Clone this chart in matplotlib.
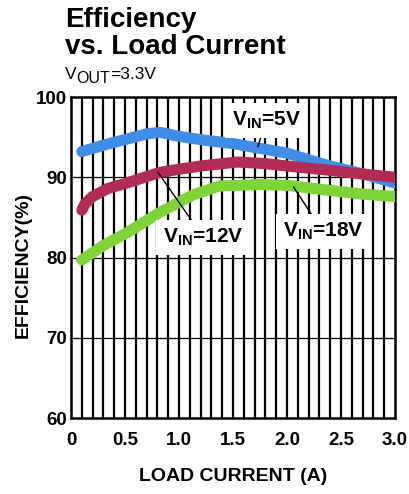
import matplotlib
matplotlib.use("Agg")
import matplotlib.pyplot as plt
import numpy as np

plt.rcParams['font.family'] = ['Liberation Sans', 'DejaVu Sans']
plt.rcParams['mathtext.fontset'] = 'custom'
plt.rcParams['mathtext.rm'] = 'Liberation Sans'
plt.rcParams['mathtext.bf'] = 'Liberation Sans:bold'

# Load current (A) and efficiency (%) per input voltage
i_5v = [0.1, 0.3, 0.5, 0.7, 0.82, 1.0, 1.25, 1.5, 1.75, 2.0, 2.37, 2.68, 3.0]
eff_5v = [93.2, 94.0, 94.7, 95.4, 95.6, 95.1, 94.6, 94.2, 93.6, 93.0, 91.5, 90.5, 89.3]

i_12v = [0.1, 0.13, 0.2, 0.34, 0.52, 0.82, 1.0, 1.2, 1.54, 1.8, 2.0, 2.37, 2.7, 3.0]
eff_12v = [85.9, 86.7, 87.6, 88.6, 89.3, 90.6, 91.0, 91.4, 91.9, 91.7, 91.4, 90.9, 90.4, 90.0]

i_18v = [0.1, 0.3, 0.52, 0.82, 1.13, 1.37, 1.75, 2.0, 2.37, 2.7, 3.0]
eff_18v = [79.7, 81.5, 83.1, 85.6, 87.8, 88.9, 89.1, 89.0, 88.4, 87.9, 87.6]

x_ticks = [0, 0.5, 1.0, 1.5, 2.0, 2.5, 3.0]
x_tick_labels = ["0", "0.5", "1.0", "1.5", "2.0", "2.5", "3.0"]
y_ticks = [60, 70, 80, 90, 100]

fig = plt.figure(figsize=(4.09, 4.94), dpi=100)
ax = fig.add_axes([0.1736, 0.1538, 0.7922, 0.6498])
ax.set_xlim(0, 3.0)
ax.set_ylim(60, 100)

# dense vertical grid every 0.1 A, horizontal every 10 %
for xv in np.arange(0.1, 3.0, 0.1):
    ax.axvline(xv, color="black", lw=1.6, zorder=1)
for yv in [70, 80, 90]:
    ax.axhline(yv, color="black", lw=0.9, zorder=1)

ax.plot(i_5v, eff_5v, color="#3f8de6", lw=8, solid_capstyle="round", zorder=3)
ax.plot(i_12v, eff_12v, color="#b02c52", lw=8, solid_capstyle="round", zorder=4)
ax.plot(i_18v, eff_18v, color="#7fd438", lw=8, solid_capstyle="round", zorder=3)

for s in ax.spines.values():
    s.set_linewidth(1.8)

ax.set_xticks(x_ticks)
ax.set_xticklabels(x_tick_labels)
ax.set_yticks(y_ticks)
ax.tick_params(axis="x", length=0, labelsize=13.5, pad=10)
ax.tick_params(axis="y", length=0, labelsize=13.5, pad=3)
for lbl in ax.get_xticklabels() + ax.get_yticklabels():
    lbl.set_fontweight("bold")

ax.set_xlabel("LOAD CURRENT (A)", fontsize=14, fontweight="bold", labelpad=14)
ax.set_ylabel("EFFICIENCY(%)", fontsize=14, fontweight="bold", va="center")
ax.yaxis.set_label_coords(-0.148, 0.477)

box = dict(facecolor="white", edgecolor="none", pad=5)
line = dict(arrowstyle="-", color="black", lw=1.0, shrinkA=0, shrinkB=0)
ax.annotate(r"$\mathbf{V_{IN}}$=5V", xy=(1.73, 93.8), xytext=(1.806, 97.1), fontweight="bold",
            ha="center", va="center", fontsize=15, bbox=box, arrowprops=line, zorder=6)
ax.annotate(r"$\mathbf{V_{IN}}$=12V", xy=(0.806, 90.6), xytext=(1.227, 82.5), fontweight="bold",
            ha="center", va="center", fontsize=15, bbox=box, arrowprops=line, zorder=6)
ax.annotate(r"$\mathbf{V_{IN}}$=18V", xy=(2.06, 88.8), xytext=(2.333, 83.2), fontweight="bold",
            ha="center", va="center", fontsize=15, bbox=box, arrowprops=line, zorder=6)

fig.text(0.159, 1 - 27 / 494, "Efficiency", fontsize=20, fontweight="bold", va="baseline")
fig.text(0.159, 1 - 54 / 494, "vs. Load Current", fontsize=20, fontweight="bold", va="baseline")

# V_OUT subtitle with a near full-size lowered subscript
t1 = fig.text(0.159, 1 - 79 / 494, "V", fontsize=12.5, va="baseline")
t2 = plt.annotate("OUT", xy=(1, 0), xycoords=t1, xytext=(0, -3), textcoords="offset points",
                  fontsize=11.5, ha="left", va="bottom", annotation_clip=False)
t3 = plt.annotate("=3.3V", xy=(1, 0), xycoords=t2, xytext=(0, 3), textcoords="offset points",
                  fontsize=12.5, ha="left", va="bottom", annotation_clip=False)

fig.savefig("out.png", dpi=100)
